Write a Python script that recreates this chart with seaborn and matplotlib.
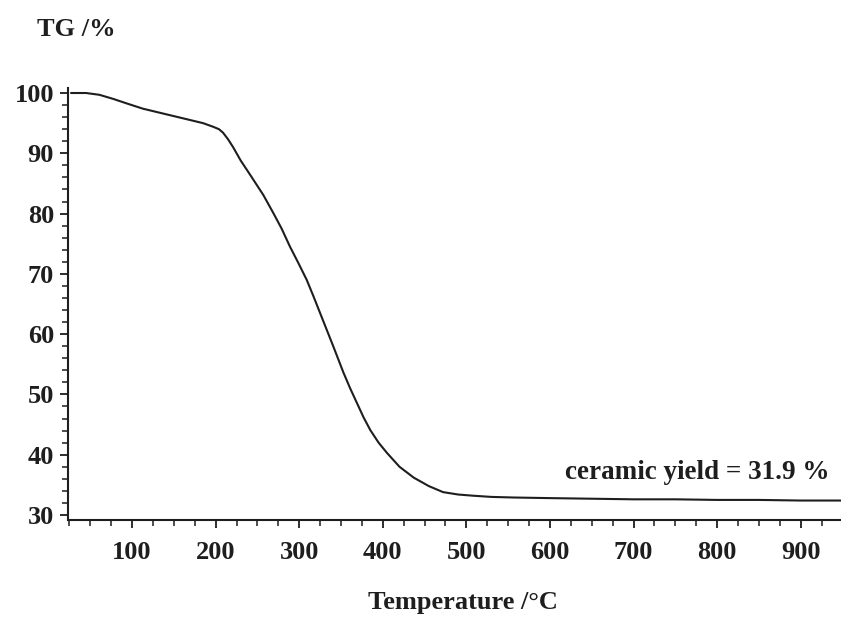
import matplotlib
matplotlib.use("Agg")
import matplotlib.pyplot as plt
from matplotlib.ticker import MultipleLocator
import seaborn as sns
import pandas as pd

# Data
temperature = [27, 45, 61, 78, 93, 113, 134, 155, 173, 185, 197, 204, 209, 215,
               221, 230, 241, 257, 269, 279, 289, 299, 309, 317, 325, 333, 341,
               353, 361, 369, 377, 385, 395, 405, 420, 437, 455, 472, 490, 508,
               530, 557, 600, 650, 700, 750, 800, 850, 900, 948]
tg = [100.0, 100.0, 99.7, 99.0, 98.3, 97.4, 96.7, 96.0, 95.4, 95.0, 94.4, 94.0,
      93.4, 92.3, 91.0, 88.8, 86.5, 83.1, 80.1, 77.5, 74.5, 71.8, 69.0, 66.3,
      63.5, 60.7, 57.9, 53.6, 51.0, 48.6, 46.2, 44.1, 42.0, 40.3, 38.0, 36.2,
      34.8, 33.8, 33.4, 33.2, 33.0, 32.9, 32.8, 32.7, 32.6, 32.6, 32.5, 32.5,
      32.4, 32.4]
x_ticks = [100, 200, 300, 400, 500, 600, 700, 800, 900]
y_ticks = [30, 40, 50, 60, 70, 80, 90, 100]
x_label = "Temperature /°C"
y_label = "TG /%"
annotation = "ceramic yield = 31.9 %"

df = pd.DataFrame({"Temperature": temperature, "TG": tg})

sns.set_style("ticks")
plt.rcParams["font.family"] = ["Liberation Serif", "DejaVu Serif"]
plt.rcParams["font.weight"] = "bold"

W, H = 841, 617
fig = plt.figure(figsize=(W / 100, H / 100), dpi=100)
ax = fig.add_axes([68 / W, (H - 520) / H, (W - 68) / W, (520 - 88) / H])

sns.lineplot(data=df, x="Temperature", y="TG", ax=ax, color="#1e1e1e",
             linewidth=1.5, sort=False)

ax.set_xlim(23.4, 948.2)
ax.set_ylim(29.17, 100.83)
ax.set_xticks(x_ticks)
ax.set_yticks(y_ticks)
ax.xaxis.set_minor_locator(MultipleLocator(25))
ax.yaxis.set_minor_locator(MultipleLocator(2))

for s in ("top", "right"):
    ax.spines[s].set_visible(False)
for s in ("left", "bottom"):
    ax.spines[s].set_linewidth(1.5)
    ax.spines[s].set_color("#1e1e1e")

ax.tick_params(axis="both", which="major", length=6, width=1.3,
               color="#1e1e1e", labelsize=19, labelcolor="#1e1e1e")
ax.tick_params(axis="both", which="minor", length=4, width=1.1,
               color="#1e1e1e")
ax.tick_params(axis="x", which="major", pad=9)
ax.tick_params(axis="y", which="major", pad=4)
for lab in ax.get_xticklabels() + ax.get_yticklabels():
    lab.set_fontweight("bold")

ax.set_xlabel(x_label, fontsize=19, fontweight="bold", color="#1e1e1e",
              va="center", ha="center")
ax.xaxis.set_label_coords((463 - 68) / 773, (520 - 603) / 432)
ax.set_ylabel(y_label, fontsize=19, fontweight="bold", color="#1e1e1e",
              rotation=0, va="center", ha="left")
ax.yaxis.set_label_coords((37 - 68) / 773, (520 - 29) / 432)

ax.text(776, 37.1, annotation, fontsize=19.5, fontweight="bold",
        color="#1e1e1e", ha="center", va="center")

fig.savefig("out.png", dpi=100)
